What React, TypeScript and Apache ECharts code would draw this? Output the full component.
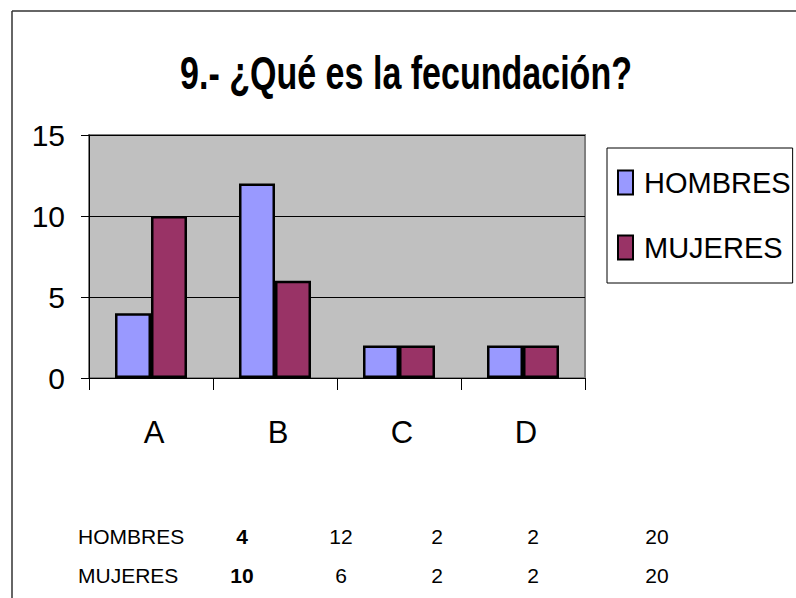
import React, { useEffect, useRef } from "react";
import * as echarts from "echarts";

const titleText = "9.- ¿Qué es la fecundación?";
const categories = ["A", "B", "C", "D"];
const seriesNames = ["HOMBRES", "MUJERES"];
const hombres = [4, 12, 2, 2];
const mujeres = [10, 6, 2, 2];
const totals = [20, 20];
const yTicks = [0, 5, 10, 15];

const SANS = "'Liberation Sans', Arial, sans-serif";

export default function App() {
  const ref = useRef<HTMLDivElement>(null);
  useEffect(() => {
    if (!ref.current) return;
    const chart = echarts.init(ref.current, undefined, { renderer: "svg" });

    const colX = [242, 341, 437, 533, 657];
    const rowY = [536, 575];
    const rows = [hombres, mujeres];
    const tableEls: any[] = [];
    rows.forEach((vals, r) => {
      tableEls.push({
        type: "text",
        x: 78,
        y: rowY[r],
        style: { text: seriesNames[r], font: `21px ${SANS}`, fill: "#000", verticalAlign: "middle" },
      });
      const all = [...vals, totals[r]];
      all.forEach((v, c) => {
        tableEls.push({
          type: "text",
          x: colX[c],
          y: rowY[r],
          style: {
            text: String(v),
            font: `${c === 0 ? "bold " : ""}21px ${SANS}`,
            fill: "#000",
            align: "center",
            verticalAlign: "middle",
          },
        });
      });
    });

    chart.setOption({
      animation: false,
      backgroundColor: "#ffffff",
      legend: {
        orient: "vertical",
        left: 607,
        top: 148,
        padding: [20, 2, 21, 10],
        itemGap: 36,
        itemWidth: 15,
        itemHeight: 24,
        borderColor: "#000",
        borderWidth: 1,
        backgroundColor: "#fff",
        icon: "rect",
        data: seriesNames,
        textStyle: { fontFamily: SANS, fontSize: 29, color: "#000", padding: [0, 0, 0, 6] },
      },
      grid: {
        left: 89,
        top: 135,
        right: 211,
        bottom: 220,
        show: true,
        backgroundColor: "#C0C0C0",
        borderColor: "#808080",
        borderWidth: 2,
      },
      xAxis: {
        type: "category",
        data: categories,
        axisLine: { show: true, lineStyle: { color: "#000", width: 1 } },
        axisTick: { show: true, length: 12, lineStyle: { color: "#000" } },
        axisLabel: { fontFamily: SANS, fontSize: 31, color: "#000", margin: 39, padding: [0, 0, 0, 6] },
      },
      yAxis: {
        type: "value",
        min: yTicks[0],
        max: yTicks[yTicks.length - 1],
        interval: 5,
        axisLine: { show: true, lineStyle: { color: "#000", width: 1 } },
        axisTick: { show: true, length: 8, lineStyle: { color: "#000" } },
        splitLine: { show: true, lineStyle: { color: "#000", width: 1 } },
        axisLabel: { fontFamily: SANS, fontSize: 30, color: "#000", margin: 24 },
      },
      series: [
        {
          name: seriesNames[0],
          type: "bar",
          data: hombres,
          barWidth: 36,
          barGap: "0%",
          itemStyle: { color: "#9999FF", borderColor: "#000", borderWidth: 2.5 },
        },
        {
          name: seriesNames[1],
          type: "bar",
          data: mujeres,
          barWidth: 36,
          barGap: "0%",
          itemStyle: { color: "#993366", borderColor: "#000", borderWidth: 2.5 },
        },
      ],
      graphic: [
        {
          type: "line",
          shape: { x1: 12, y1: 11, x2: 12, y2: 598 },
          style: { stroke: "#333", lineWidth: 1.5 },
        },
        {
          type: "line",
          shape: { x1: 12, y1: 11, x2: 796, y2: 11 },
          style: { stroke: "#333", lineWidth: 1.5 },
        },
        {
          type: "text",
          x: 406,
          y: 73,
          scaleX: 0.74,
          style: {
            text: titleText,
            font: `bold 46px ${SANS}`,
            fill: "#000",
            align: "center",
            verticalAlign: "middle",
          },
        },
        ...tableEls,
      ],
    });
    return () => chart.dispose();
  }, []);
  return (
    <div
      ref={ref}
      style={{ position: "fixed", left: 0, top: 0, width: 796, height: 598 }}
    />
  );
}
